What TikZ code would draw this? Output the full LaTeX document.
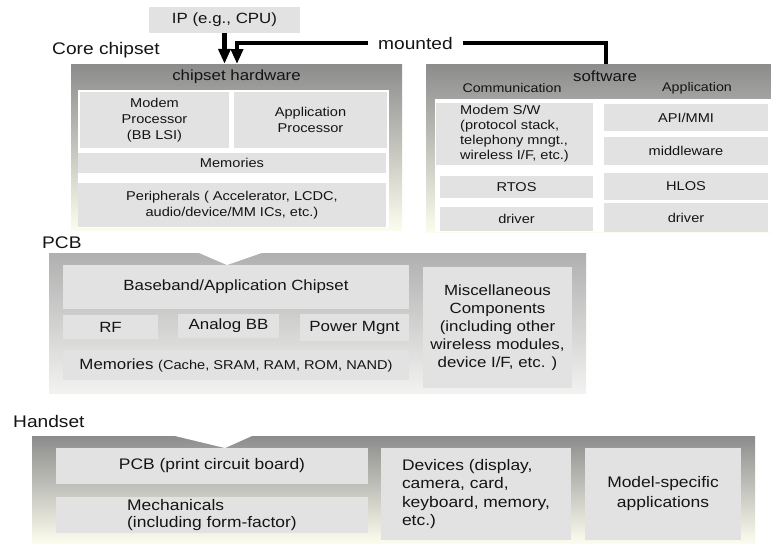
\documentclass[tikz,border=0pt]{standalone}
\usepackage{fontspec}
\setmainfont{Liberation Sans}[FakeStretch=1.14]
\usetikzlibrary{arrows.meta}
\definecolor{boxgray}{RGB}{226,226,226}
\definecolor{paneltop}{RGB}{140,140,140}
\definecolor{panelbot}{RGB}{252,252,238}
\definecolor{pcbtop}{RGB}{176,176,176}
\definecolor{pcbbot}{RGB}{242,242,240}
\definecolor{txt}{RGB}{20,20,20}
\begin{document}
\begin{tikzpicture}[x=1pt,y=-1pt,
  every node/.style={text=txt},
  fA/.style={font=\fontsize{12.8}{15.5}\selectfont},
  fB/.style={font=\fontsize{14.8}{18}\selectfont},
  fC/.style={font=\fontsize{15.3}{18.5}\selectfont},
  fH/.style={font=\fontsize{16.8}{20}\selectfont},
  box/.style={fill=boxgray, draw=none, inner sep=0pt, align=center},
  panel/.style={draw=none, inner sep=0pt, top color=paneltop, bottom color=panelbot},
  pcbpanel/.style={draw=none, inner sep=0pt, top color=pcbtop, bottom color=pcbbot},
  whitearea/.style={fill=white, draw=none, inner sep=0pt},
  label/.style={inner sep=0pt, anchor=west},
  thickline/.style={line width=4.5pt, draw=black, line join=miter},
  bigarrow/.style={thickline, -{Triangle[length=15pt,width=12pt]}}
]
\useasboundingbox (0,0) rectangle (771,544);
\fill[white] (0,0) rectangle (771,544);

% ---------- Core chipset ----------
\node[box, fB, minimum width=151pt, minimum height=26pt] (ip) at (224.5,20) {IP (e.g., CPU)};
\node[label, fH] (corelbl) at (52,50) {Core chipset};
\node[fH, inner xsep=10pt, inner ysep=2pt] (mounted) at (415.5,43) {mounted};

\node[panel, minimum width=331pt, minimum height=166pt] (chiphw) at (236.5,147) {};
\node[whitearea, minimum width=311pt, minimum height=138pt] (chipwhite) at (233.5,159) {};
\node[fB, inner sep=0pt] (chiphwlbl) at (236.5,77) {chipset hardware};

\node[box, fA, minimum width=149pt, minimum height=56pt, font=\fontsize{12.8}{16}\selectfont] (modem) at (154.5,120) {Modem\\Processor\\(BB LSI)};
\node[box, fA, minimum width=153pt, minimum height=56pt] (approc) at (310.5,120) {Application\\Processor};
\node[box, fA, minimum width=308pt, minimum height=20pt] (memA) at (232,163) {Memories};
\node[box, fA, minimum width=308pt, minimum height=44pt] (periph) at (232,205) {Peripherals ( Accelerator, LCDC,\\audio/device/MM ICs, etc.)};

% software panel
\node[panel, minimum width=345pt, minimum height=168pt] (sw) at (598.5,148) {};
\node[whitearea, minimum width=336pt, minimum height=133pt] (swwhite) at (603,165.5) {};
\node[fB, inner sep=0pt] (swlbl) at (605,76) {software};
\node[fA, inner sep=0pt, font=\fontsize{12.5}{15}\selectfont] (commlbl) at (512,88) {Communication};
\node[fA, inner sep=0pt, font=\fontsize{12.5}{15}\selectfont] (applbl) at (697,88) {Application};

\node[box, fA, align=left, minimum width=157pt, minimum height=62pt, font=\fontsize{12.8}{15}\selectfont] (modemsw) at (514.5,134) {Modem S/W\\(protocol stack,\\telephony mngt.,\\wireless I/F, etc.)};
\node[box, fA, minimum width=153pt, minimum height=22pt] (rtos) at (516.5,187) {RTOS};
\node[box, fA, minimum width=153pt, minimum height=24pt] (drvL) at (516.5,219) {driver};
\node[box, fA, minimum width=164pt, minimum height=27pt] (api) at (686,117.5) {API/MMI};
\node[box, fA, minimum width=164pt, minimum height=28pt] (mid) at (686,151) {middleware};
\node[box, fA, minimum width=164pt, minimum height=27pt] (hlos) at (686,186.5) {HLOS};
\node[box, fA, minimum width=164pt, minimum height=29pt] (drvR) at (686,217.5) {driver};

% mounted connectors
\coordinate (swtop) at (606,64);
\coordinate (chiptop) at (237,64);
\draw[bigarrow] (ip.south) -- (ip.south |- chiphw.north);
\draw[bigarrow] (mounted.west) -| (chiptop);
\draw[thickline] (mounted.east) -| (swtop);

% ---------- PCB ----------
\node[label, fH] (pcblbl) at (42,243) {PCB};
\node[pcbpanel, minimum width=537pt, minimum height=140pt] (pcb) at (317.5,323) {};
\fill[white] (198,252.5) -- (227,265) -- (263,252.5) -- cycle;

\node[box, fB, minimum width=346pt, minimum height=44pt] (bb) at (236,287) {Baseband/Application Chipset};
\node[box, fB, minimum width=95pt, minimum height=24pt] (rf) at (110.5,327) {RF};
\node[box, fB, minimum width=101pt, minimum height=24pt] (abb) at (228.5,326) {Analog BB};
\node[box, fB, minimum width=109pt, minimum height=27pt] (pm) at (354.5,327.5) {Power Mgnt};
\node[box, fB, minimum width=346pt, minimum height=30pt] (memB) at (236,365) {Memories {\fontsize{12.8}{15}\selectfont (Cache, SRAM, RAM, ROM, NAND)}};
\node[box, fB, minimum width=149pt, minimum height=121pt] (misc) at (497.5,327.5) {Miscellaneous\\Components\\(including other\\wireless modules,\\device I/F, etc. )};

% ---------- Handset ----------
\node[label, fH] (hslbl) at (13,421) {Handset};
\node[panel, minimum width=723pt, minimum height=107pt] (hs) at (393.5,489.5) {};
\fill[white] (173,435.5) -- (225,448) -- (253,435.5) -- cycle;

\node[box, fC, minimum width=312pt, minimum height=36pt] (pcbb) at (212,466) {PCB (print circuit board)};
\node[box, fC, align=left, minimum width=312pt, minimum height=36pt, font=\fontsize{15.3}{16.5}\selectfont] (mech) at (212,515) {Mechanicals\\(including form-factor)};
\node[box, fC, align=left, minimum width=190pt, minimum height=92pt] (dev) at (476,494) {Devices (display,\\camera, card,\\keyboard, memory,\\etc.)};
\node[box, fC, minimum width=156pt, minimum height=92pt, font=\fontsize{15.3}{20}\selectfont] (model) at (663,494) {Model-specific\\applications};
\end{tikzpicture}
\end{document}
